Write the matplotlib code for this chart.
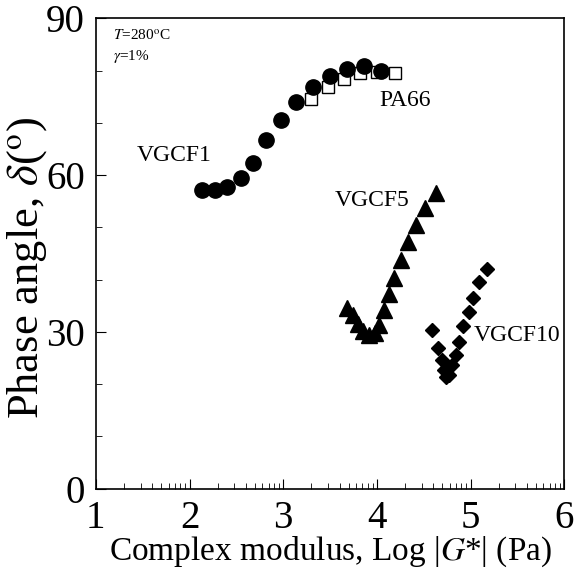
import numpy as np
import matplotlib
matplotlib.use("Agg")
import matplotlib.pyplot as plt

plt.rcParams["font.family"] = ["Liberation Serif", "DejaVu Serif"]
plt.rcParams["mathtext.fontset"] = "stix"

# VGCF1 (filled circles)
vgcf1_x = [2.13, 2.27, 2.40, 2.55, 2.68, 2.82, 2.98, 3.14, 3.32, 3.50, 3.68, 3.86, 4.04]
vgcf1_y = [57.1, 57.1, 57.7, 59.4, 62.3, 66.7, 70.5, 74.0, 76.8, 78.9, 80.3, 80.8, 79.9]
# PA66 (open squares)
pa66_x = [3.30, 3.48, 3.65, 3.82, 4.00, 4.19]
pa66_y = [74.5, 76.8, 78.4, 79.5, 79.7, 79.5]
# VGCF5 (triangles)
vgcf5_x = [3.68, 3.74, 3.80, 3.85, 3.92, 3.98, 4.02, 4.08, 4.13, 4.18, 4.26, 4.33, 4.42, 4.51, 4.63]
vgcf5_y = [34.6, 33.3, 31.5, 30.2, 29.4, 29.8, 31.3, 34.2, 37.3, 40.3, 43.8, 47.2, 50.5, 53.7, 56.6]
# VGCF10 (diamonds)
vgcf10_x = [4.59, 4.65, 4.69, 4.72, 4.74, 4.77, 4.80, 4.84, 4.88, 4.92, 4.98, 5.03, 5.09, 5.18]
vgcf10_y = [30.4, 26.9, 24.7, 22.8, 21.4, 21.8, 23.7, 25.6, 28.1, 31.1, 33.8, 36.5, 39.6, 42.0]

fig = plt.figure(figsize=(5.74, 5.71), dpi=100)
ax = fig.add_axes([0.167, 0.144, 0.816, 0.824])

ax.plot(pa66_x, pa66_y, "s", ms=9, mfc="white", mec="black", mew=1.0, ls="none")
ax.plot(vgcf1_x, vgcf1_y, "o", ms=11, color="black", ls="none")
ax.plot(vgcf5_x, vgcf5_y, "^", ms=11, color="black", ls="none")
ax.plot(vgcf10_x, vgcf10_y, "D", ms=7, color="black", ls="none")

ax.set_xlim(1, 6)
ax.set_ylim(0, 90)
ax.set_xticks([1, 2, 3, 4, 5, 6])
minor_x = [d + np.log10(k) for d in range(1, 6) for k in range(2, 10)]
ax.set_xticks(minor_x, minor=True)
ax.set_yticks([0, 30, 60, 90])
ax.set_yticks([10, 20, 40, 50, 70, 80], minor=True)
ax.tick_params(which="both", direction="in", top=False, right=False, labelsize=28, pad=8)
ax.tick_params(which="major", length=7, width=0.8)
ax.tick_params(which="minor", length=4, width=0.6)
for s in ax.spines.values():
    s.set_linewidth(1.2)

ax.set_xlabel(r"Complex modulus, Log |$G$*| (Pa)", fontsize=24, labelpad=-2)
ax.set_ylabel(r"Phase angle, $\delta$($^{\rm o}$)", fontsize=32)
ax.yaxis.set_label_coords(-0.1, 0.47)

ax.text(1.44, 63.8, "VGCF1", fontsize=17, va="center")
ax.text(4.03, 74.3, "PA66", fontsize=17, va="center")
ax.text(3.55, 55.2, "VGCF5", fontsize=17, va="center")
ax.text(5.03, 29.4, "VGCF10", fontsize=17, va="center")
ax.text(1.18, 86.6, r"$T$=280$^{\rm o}$C", fontsize=11, va="center")
ax.text(1.18, 82.6, r"$\gamma$=1%", fontsize=11, va="center")

fig.savefig("out.png", dpi=100)
